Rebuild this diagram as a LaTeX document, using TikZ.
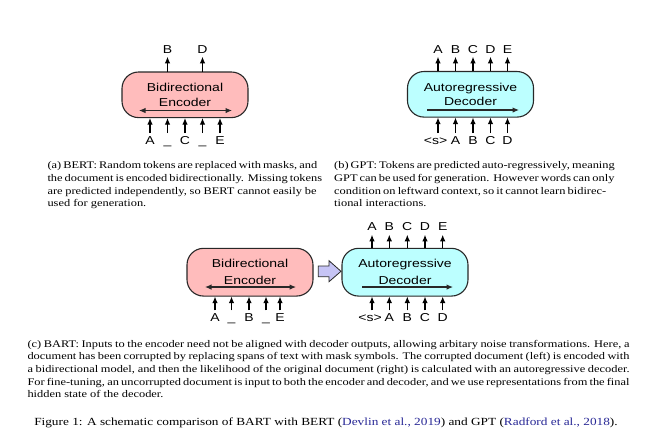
\documentclass[tikz,border=0pt]{standalone}
\usepackage{fontspec}
\setmainfont{Liberation Serif}
\setsansfont{Liberation Sans}
\usetikzlibrary{arrows.meta}
\definecolor{encpink}{RGB}{255,188,188}
\definecolor{deccyan}{RGB}{188,255,255}
\definecolor{boxline}{RGB}{40,40,40}
\definecolor{lav}{RGB}{198,196,245}
\definecolor{citeblue}{RGB}{40,40,150}
\tikzset{
  mbox/.style={draw=boxline, line width=1.1pt, rounded corners=16.5pt, minimum width=126pt, inner sep=0pt},
  encbox/.style={mbox, fill=encpink},
  decbox/.style={mbox, fill=deccyan},
  btext/.style={font=\sffamily\fontsize{14}{17.9}\selectfont, align=center, inner sep=0pt},
  btextc/.style={font=\sffamily\fontsize{14}{20.2}\selectfont, align=center, inner sep=0pt},
  tok/.style={font=\sffamily\fontsize{14}{17}\selectfont, inner sep=0pt, text height=10pt, text depth=0pt},
  tokarrow/.style={-{Latex[length=6.5pt,width=5.5pt]}, line width=1.1pt, black},
  inarrow/.style={line width=1.1pt, draw=boxline},
  captext/.style={font=\fontsize{12.4}{15.5}\selectfont, inner sep=0pt, align=left, anchor=north west},
  figcaption/.style={font=\fontsize{13.3}{17}\selectfont, inner sep=0pt, anchor=base},
  fatarrow/.style={draw=boxline, line width=0.8pt, fill=lav, line join=miter}
}
\begin{document}
\begin{tikzpicture}[x=1pt,y=-1.219512pt]
\begin{scope}[yscale=0.82, transform shape]
\useasboundingbox (0,0) rectangle (651,440);
\fill[white] (0,0) rectangle (651,440);

% ---------- (a) BERT ----------
\node[encbox, minimum height=55.6pt] (enca) at (185,94.8) {};
\node[btext] (enca-t) at (185,94.6) {Bidirectional\\Encoder};
\coordinate (aL) at (139,110.5);
\coordinate (aR) at (232,110.5);
\draw[inarrow, {Latex[length=6.5pt,width=5.5pt]}-{Latex[length=6.5pt,width=5.5pt]}] (aL) -- (aR);
\foreach \x/\t [count=\i] in {150/A,167.5/\_,185/C,202.5/\_,220/E} {
  \coordinate (ca\i) at (\x,0);
  \node[tok] (ia\i) at (\x,140) {\t};
  \draw[tokarrow, shorten <=2.5pt] (ia\i.north -| ca\i) -- (ca\i |- enca.south);
}
\node[tok] (oa2) at (167.5,49.5) {B};
\node[tok] (oa4) at (202.5,49.5) {D};
\draw[tokarrow, shorten >=3pt] (ca2 |- enca.north) -- (oa2.south);
\draw[tokarrow, shorten >=3pt] (ca4 |- enca.north) -- (oa4.south);

% ---------- (b) GPT ----------
\node[decbox, minimum height=55.6pt] (decb) at (470.5,94.3) {};
\node[btext] (decb-t) at (470.5,94.3) {Autoregressive\\Decoder};
\coordinate (bL) at (427,110);
\coordinate (bR) at (519,110);
\draw[inarrow, -{Latex[length=6.5pt,width=5.5pt]}] (bL) -- (bR);
\foreach \x/\o/\lx/\t [count=\i] in {438/A/435.5/{<s>},455.5/B/455.5/A,473/C/473/B,490.5/D/490.5/C,507.5/E/507.5/D} {
  \coordinate (cb\i) at (\x,0);
  \node[tok] (ob\i) at (\x,49.5) {\o};
  \node[tok] (ib\i) at (\lx,140) {\t};
  \draw[tokarrow, shorten <=2.5pt] (ib\i.north -| cb\i) -- (cb\i |- decb.south);
  \draw[tokarrow, shorten >=3pt] (cb\i |- decb.north) -- (ob\i.south);
}

% ---------- (c) BART ----------
\node[encbox, minimum height=58.2pt] (encc) at (250,272.2) {};
\node[btextc] (encc-t) at (250,271.8) {Bidirectional\\Encoder};
\coordinate (cL) at (205,287);
\coordinate (cR) at (296,287);
\draw[inarrow, {Latex[length=6.5pt,width=5.5pt]}-{Latex[length=6.5pt,width=5.5pt]}] (cL) -- (cR);
\foreach \x/\t [count=\i] in {215/A,231.5/\_,249/B,266/\_,280/E} {
  \coordinate (cc\i) at (\x,0);
  \node[tok] (ic\i) at (\x,317.5) {\t};
  \draw[tokarrow, shorten <=3pt] (ic\i.north -| cc\i) -- (cc\i |- encc.south);
}

\node[decbox, minimum height=58.2pt] (decc) at (405,272.2) {};
\node[btextc] (decc-t) at (405,271.8) {Autoregressive\\Decoder};
\coordinate (dL) at (362,287);
\coordinate (dR) at (453,287);
\draw[inarrow, -{Latex[length=6.5pt,width=5.5pt]}] (dL) -- (dR);
\foreach \x/\o/\lx/\t [count=\i] in {372/A/370/{<s>},389.3/B/389.3/A,407.3/C/407.3/B,425/D/425/C,442.7/E/442.7/D} {
  \coordinate (cd\i) at (\x,0);
  \node[tok] (od\i) at (\x,226) {\o};
  \node[tok] (id\i) at (\lx,317.5) {\t};
  \draw[tokarrow, shorten <=3pt] (id\i.north -| cd\i) -- (cd\i |- decc.south);
  \draw[tokarrow, shorten >=4.5pt] (cd\i |- decc.north) -- (od\i.south);
}

% fat arrow encoder -> decoder
\draw[fatarrow] (318.3,266) -- (329,266) -- (329,260.7) -- (341,271.3) -- (329,281.7) -- (329,276.7) -- (318.3,276.7) -- cycle;

% ---------- captions ----------
\node[captext] (capa) at (47.3,161.5) {%
\hbox to 269pt{(a) BERT: Random tokens are replaced with masks, and}\\
\hbox to 269pt{the document is encoded bidirectionally. Missing tokens}\\
\hbox to 269pt{are predicted independently, so BERT cannot easily be}\\
used for generation.};

\node[captext] (capb) at (334,161.5) {%
\hbox to 272pt{(b) GPT: Tokens are predicted auto-regressively, meaning}\\
\hbox to 272pt{GPT can be used for generation. However words can only}\\
\hbox to 272pt{condition on leftward context, so it cannot learn bidirec-}\\
tional interactions.};

\node[captext] (capc) at (27.3,339.8) {%
\hbox to 602pt{(c) BART: Inputs to the encoder need not be aligned with decoder outputs, allowing arbitary noise transformations. Here, a}\\
\hbox to 602pt{document has been corrupted by replacing spans of text with mask symbols. The corrupted document (left) is encoded with}\\
\hbox to 602pt{a bidirectional model, and then the likelihood of the original document (right) is calculated with an autoregressive decoder.}\\
\hbox to 602pt{For fine-tuning, an uncorrupted document is input to both the encoder and decoder, and we use representations from the final}\\
hidden state of the decoder.};

\node[figcaption] (fig) at (326,425) {Figure 1: A schematic comparison of BART with BERT (\textcolor{citeblue}{Devlin et al., 2019}) and GPT (\textcolor{citeblue}{Radford et al., 2018}).};
\end{scope}
\end{tikzpicture}
\end{document}
